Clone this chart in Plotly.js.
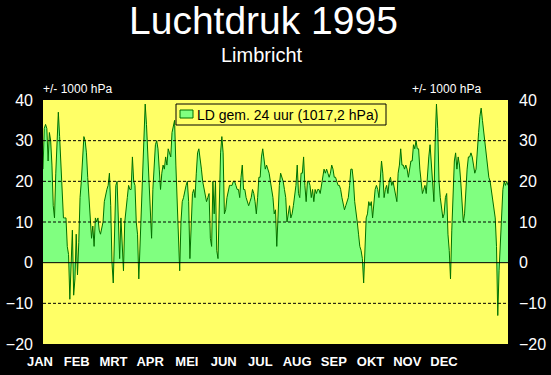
<!DOCTYPE html>
<html>
<head>
<meta charset="utf-8">
<script src="https://cdn.plot.ly/plotly-3.0.1.min.js"></script>
<style>
html,body{margin:0;padding:0;background:#000;}
#chart{width:551px;height:375px;}
</style>
</head>
<body>
<div id="chart"></div>
<script>
// ---- data ----
const months = ['JAN','FEB','MRT','APR','MEI','JUN','JUL','AUG','SEP','OKT','NOV','DEC'];
const yTicks = [-20,-10,0,10,20,30,40];
const gridLevels = [-10,10,20,30];
const chartTitle = 'Luchtdruk 1995';
const chartSubtitle = 'Limbricht';
const unitLabel = '+/- 1000 hPa';
const seriesName = 'LD gem. 24 uur (1017,2 hPa)';
// daily mean air pressure minus 1000 hPa, 1995 (365 days)
const pressure = [
 23,33,34,33,25,32,30,24,14,11,
 22,31,37,31,24,16,11,11,11,4,
 2,-9,0,8,-8,-4,7,-3,5,16,
 20,27,31,30,27,21,15,9,6,9,
 4,11,10,11,8,7,9,10,15,17,
 18,19,22,14,0,-5,8,19,20,10,
 1,11,5,-2,10,14,16,19,18,18,
 26,20,19,10,7,-4,5,12,22,32,
 39,34,26,21,11,6,18,24,29,30,
 28,23,18,22,24,23,26,24,28,27,
 26,32,34,35,24,15,7,-2,10,15,
 16,18,19,20,15,1,12,17,18,16,
 22,27,28,26,23,20,18,16,15,16,
 17,6,4,20,12,20,3,1,17,27,
 31,27,12,13,16,18,19,19,19,20,
 20,19,18,18,16,21,24,18,18,16,
 15,14,15,16,18,17,15,12,16,21,
 21,26,28,26,23,24,23,22,20,18,
 16,12,13,4,12,19,22,21,20,18,
 16,10,12,14,11,12,14,16,19,24,
 17,16,22,22,26,19,15,20,20,19,
 16,18,15,18,17,18,18,17,19,21,
 23,22,23,22,21,22,24,23,21,21,
 20,19,19,18,16,14,13,14,15,16,
 19,23,23,20,15,13,10,7,4,3,
 1,-5,3,11,12,15,14,15,11,15,
 18,19,18,16,21,25,22,16,18,19,
 17,20,21,19,20,18,17,15,22,24,
 28,24,24,23,24,23,21,23,25,25,
 29,28,30,28,28,23,19,17,18,19,
 17,22,26,29,24,18,15,30,39,33,
 20,16,13,11,12,16,17,7,3,-4,
 8,20,25,27,23,26,24,20,13,10,
 12,18,23,26,26,27,26,24,22,23,
 29,32,36,38,35,32,29,26,23,21,
 20,18,15,14,11,4,-13,-2,4,12,
 18,20,19,20,19
];
const days = pressure.map((v, i) => i);

// ---- styling ----
const FONT = 'Arial, "Liberation Sans", sans-serif';
const fillGreen = '#80FF80';
const lineGreen = '#007000';
const plotYellow = '#FFFF66';

const traces = [
  {type: 'scatter', mode: 'lines', x: days, y: pressure,
   fill: 'tozeroy', fillcolor: fillGreen, line: {color: lineGreen, width: 1},
   name: seriesName, showlegend: false, hoverinfo: 'skip'},
  // same series referenced on the right-hand axis (draws nothing) so that axis is shown
  {type: 'scatter', mode: 'none', x: days, y: pressure, xaxis: 'x', yaxis: 'y2',
   showlegend: false, hoverinfo: 'skip'},
  // month axis (draws nothing)
  {type: 'scatter', mode: 'none', x: months, y: months.map(() => null), xaxis: 'x2', yaxis: 'y',
   showlegend: false, hoverinfo: 'skip'}
];

const W = 485; // width between margins
const shapes = [
  // yellow plotting area
  {type: 'rect', xref: 'x domain', yref: 'y domain', x0: 0, x1: 1, y0: 0, y1: 1,
   fillcolor: plotYellow, line: {width: 0}, layer: 'below'}
];
gridLevels.forEach(v => shapes.push({
  type: 'line', xref: 'x domain', x0: 0, x1: 1, yref: 'y', y0: v, y1: v,
  line: {color: '#000', width: 1, dash: '3px,2px'}, layer: 'above'
}));
shapes.push({type: 'line', xref: 'x domain', x0: 0, x1: 1, yref: 'y', y0: 0, y1: 0,
  line: {color: '#000', width: 1}, layer: 'above'});
// legend box
shapes.push({type: 'rect', xref: 'paper', yref: 'paper',
  x0: (176-33)/W, x1: (386-33)/W, y0: (344-125)/244, y1: (344-104)/244,
  fillcolor: plotYellow, line: {color: '#000', width: 1}, layer: 'above'});
shapes.push({type: 'rect', xref: 'paper', yref: 'paper',
  x0: (180-33)/W, x1: (193-33)/W, y0: (344-118)/244, y1: (344-110)/244,
  fillcolor: fillGreen, line: {color: lineGreen, width: 1}, layer: 'above'});

const annotations = [
  {text: chartTitle, xref: 'paper', yref: 'paper', x: (263-33)/W, y: (344-20)/244,
   xanchor: 'center', yanchor: 'middle', showarrow: false,
   font: {family: FONT, size: 39, color: '#fff'}},
  {text: chartSubtitle, xref: 'paper', yref: 'paper', x: (262-33)/W, y: (344-55)/244,
   xanchor: 'center', yanchor: 'middle', showarrow: false,
   font: {family: FONT, size: 20, color: '#fff'}},
  {text: unitLabel, xref: 'paper', yref: 'paper', x: (41-33)/W, y: (344-89)/244,
   xanchor: 'left', yanchor: 'middle', showarrow: false,
   font: {family: FONT, size: 12, color: '#fff'}},
  {text: unitLabel, xref: 'paper', yref: 'paper', x: (483-33)/W, y: (344-89)/244,
   xanchor: 'right', yanchor: 'middle', showarrow: false,
   font: {family: FONT, size: 12, color: '#fff'}},
  {text: seriesName, xref: 'paper', yref: 'paper', x: (195-33)/W, y: (344-114.5)/244,
   xanchor: 'left', yanchor: 'middle', showarrow: false,
   font: {family: FONT, size: 14, color: '#000'}}
];

const tickFont = {family: FONT, size: 16, color: '#fff'};
const layout = {
  width: 551, height: 375,
  margin: {l: 33, r: 33, t: 100, b: 31, pad: 0},
  paper_bgcolor: '#000', plot_bgcolor: 'rgba(0,0,0,0)',
  showlegend: false,
  xaxis: {domain: [10/W, 475/W], range: [0, pressure.length - 1], anchor: 'y',
    showticklabels: false, showgrid: false, zeroline: false, ticks: '', showline: false},
  xaxis2: {domain: [0, 1], anchor: 'y', type: 'category', range: [-0.1906, 13.014],
    tickfont: {family: FONT, size: 13, color: '#fff', weight: 'bold'},
    ticks: 'outside', ticklen: 5, tickcolor: 'rgba(0,0,0,0)',
    showgrid: false, zeroline: false, showline: false},
  yaxis: {range: [-20, 40], anchor: 'free', position: 0,
    tickmode: 'array', tickvals: yTicks, tickfont: tickFont,
    ticks: '', showgrid: false, zeroline: false, showline: false},
  yaxis2: {range: [-20, 40], anchor: 'free', position: 1, overlaying: 'y', side: 'right',
    tickmode: 'array', tickvals: yTicks, tickfont: tickFont,
    ticks: '', showgrid: false, zeroline: false, showline: false},
  shapes: shapes,
  annotations: annotations
};

Plotly.newPlot('chart', traces, layout, {staticPlot: true, displayModeBar: false});
</script>
</body>
</html>
